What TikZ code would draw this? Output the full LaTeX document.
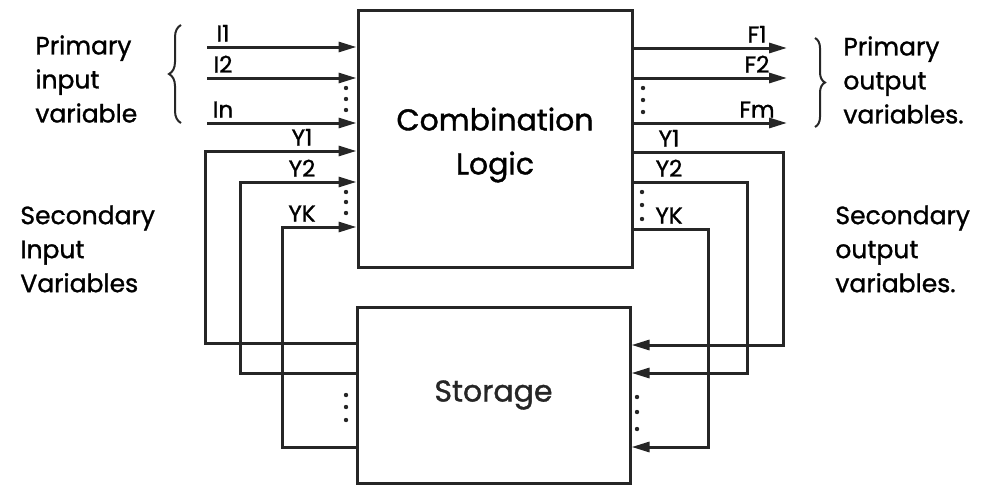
\documentclass[tikz,border=0pt]{standalone}
\usepackage{fontspec}
\setmainfont{Poppins}[FakeBold=1.2]
\usetikzlibrary{arrows.meta,positioning,decorations.pathreplacing}

\tikzset{
  wire/.style={line width=1.5pt, black!85},
  sig/.style={wire, -{Triangle[length=9pt,width=5pt]}},
  blockbox/.style={draw, line width=1.5pt, black!85, inner sep=0pt},
  lbl/.style={font=\fontsize{11.5}{13}\selectfont, inner sep=1pt, anchor=south},
  txt/.style={font=\fontsize{12.5}{17}\selectfont, align=left, inner sep=0pt, anchor=west},
  bigtxt/.style={font=\fontsize{15}{18}\selectfont, align=center, inner sep=0pt},
  curly/.style={line width=1pt, black!85, decorate},
}

\begin{document}
\begin{tikzpicture}[x=0.5pt, y=-0.5pt]
  \useasboundingbox (0,0) rectangle (988,487);

  %--- blocks ---
  \node[blockbox, minimum width=137pt, minimum height=128.5pt] (comb) at (495,138.5) {};
  \node[bigtxt] (comblbl) at (495,145) {Combination\\[4pt]Logic};
  \node[blockbox, minimum width=136.5pt, minimum height=88pt, font=\fontsize{15}{18}\selectfont] (storage) at (493.5,395) {Storage};

  %--- primary inputs ---
  \foreach \name/\y/\txt in {i1/47/I1, i2/78/I2, in/123/In} {
    \coordinate (\name) at (207,\y);
    \draw[sig] (\name) -- (\name -| comb.west);
    \node[lbl] (\name lbl) at (223,\y-3) {\txt};
  }

  %--- primary outputs ---
  \foreach \name/\y/\txt in {f1/48/F1, f2/78/F2, fm/123/Fm} {
    \coordinate (\name) at (787,\y);
    \draw[sig] (\name -| comb.east) -- (\name);
    \node[lbl] (\name lbl) at (757,\y-3) {\txt};
  }

  %--- secondary inputs (storage -> logic) ---
  \foreach \name/\x/\ya/\yb/\txt in {ly1/205/151/343/Y1, ly2/240/182/373/Y2, lyk/282/227/447/YK} {
    \coordinate (\name a) at (\x,\yb);
    \coordinate (\name b) at (\x,\ya);
    \draw[sig] (\name a -| storage.west) -- (\name a) -- (\name b) -- (\name b -| comb.west);
    \node[lbl] (\name lbl) at (302,\ya-3) {\txt};
  }

  %--- secondary outputs (logic -> storage) ---
  \foreach \name/\x/\ya/\yb/\txt in {ry1/783/152/345/Y1, ry2/747/182/373/Y2, ryk/708/229/447/YK} {
    \coordinate (\name a) at (\x,\ya);
    \coordinate (\name b) at (\x,\yb);
    \draw[sig] (\name a -| comb.east) -- (\name a) -- (\name b) -- (\name b -| storage.east);
    \node[lbl] (\name lbl) at (669,\ya-3) {\txt};
  }

  %--- dots ---
  \foreach \x/\y in {346/88, 346/99, 346/110, 346/192, 346/202, 346/213,
                     643/88, 643/100, 643/112, 642/192, 642/205, 642/219,
                     346/395, 346/407, 346/420, 637/397, 637/412, 637/429}
    \fill[black!85] (\x,\y) circle (1.1pt);

  %--- braces ---
  \draw[curly, decoration={brace, amplitude=6pt}] (181,123) -- (181,25);
  \draw[curly, decoration={brace, amplitude=5pt}] (815,38) -- (815,127);

  %--- side texts ---
  \node[txt] (primin) at (35,79) {Primary\\input\\variable};
  \node[txt] (primout) at (843,80) {Primary\\output\\variables.};
  \node[txt] (secin) at (20,249) {Secondary\\Input\\Variables};
  \node[txt] (secout) at (835,249) {Secondary\\output\\variables.};
\end{tikzpicture}
\end{document}
